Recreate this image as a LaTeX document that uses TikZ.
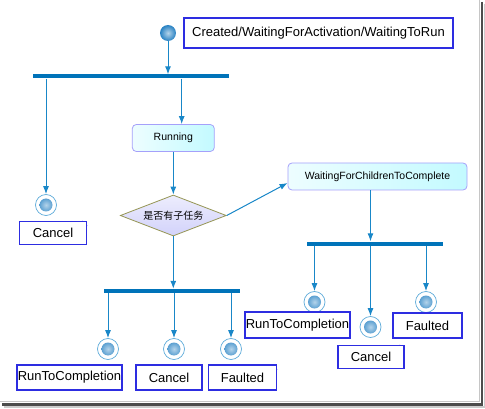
\documentclass[tikz,border=0pt]{standalone}
\usepackage{fontspec}
\setmainfont{Liberation Sans}
\newfontfamily\cjk{Noto Sans CJK SC}
\usepackage{xcolor}
\usepackage{tikz}
\usetikzlibrary{shapes.geometric, arrows.meta, positioning}
\definecolor{flowline}{RGB}{25,135,200}
\definecolor{barline}{RGB}{0,115,185}
\definecolor{noteline}{RGB}{45,45,225}
\definecolor{actline}{RGB}{165,160,250}
\definecolor{actfill}{RGB}{195,250,255}
\definecolor{decline}{RGB}{150,150,85}
\definecolor{decfill}{RGB}{210,210,250}
\definecolor{ballcol}{RGB}{40,130,195}

\begin{document}
\begin{tikzpicture}[x=1pt, y=-1pt,
    flow/.style={draw=flowline, line width=1pt, -{Latex[length=8pt,width=6pt]}},
    forkbar/.style={fill=barline, inner sep=0pt, minimum height=4pt},
    notebox/.style={draw=noteline, line width=1.2pt, fill=white, inner sep=0.5pt,
        font=\fontsize{13}{15}\selectfont,
        append after command={\pgfextra{
            \filldraw[white, line width=1.4pt] ([xshift=-5pt]\tikzlastnode.north east)
                -- (\tikzlastnode.north east) -- ([yshift=-5pt]\tikzlastnode.north east) -- cycle;
            \draw[noteline, line width=0.6pt] ([xshift=-5pt]\tikzlastnode.north east)
                -- ([yshift=-5pt]\tikzlastnode.north east);}}},
    activity/.style={rectangle, rounded corners=4pt, draw=actline, line width=0.8pt,
        left color=actfill!30!white, right color=actfill, minimum height=27pt,
        font=\fontsize{10.5}{12}\selectfont},
    decision/.style={diamond, aspect=2.5, draw=decline, line width=0.8pt, inner sep=0pt,
        top color=decfill!40!white, bottom color=decfill, minimum width=106pt, minimum height=41pt},
    start/.style={circle, inner sep=0pt, minimum size=16pt, inner color=ballcol!35!white, outer color=ballcol},
    final/.style={circle, draw=flowline!70, line width=0.7pt, inner sep=0pt, minimum size=21pt,
        path picture={\shade[inner color=ballcol!35!white, outer color=ballcol] (path picture bounding box.center) circle (6.5pt);}}]
    \useasboundingbox (0,0) rectangle (485,409);

    % frame shadow
    \draw[gray!45, line width=1pt] (479.5,0) -- (479.5,401.5) -- (0,401.5);
    \draw[black!70, line width=2.5pt] (482,2) -- (482,404.5) -- (2,404.5);
    \draw[gray!40, line width=1.5pt] (484.3,4) -- (484.3,407) -- (4,407);

    % start
    \node[start] (init) at (168,33) {};
    \node[notebox, minimum width=269pt, minimum height=30pt] (nInit) at (318.5,33) {Created/WaitingForActivation/WaitingToRun};
    \node[forkbar, minimum width=196pt] (fork1) at (130.5,76.5) {};

    % cancel before running
    \node[final] (end1) at (46,205) {};
    \node[notebox, minimum width=67pt, minimum height=23pt] (nEnd1) at (53,233) {Cancel};

    % running and decision
    \node[activity, minimum width=82pt] (run) at (173.3,138) {Running};
    \node[decision] (hasChild) at (173.3,215.5) {\cjk\fontsize{10}{12}\selectfont 是否有子任务};
    \node[activity, minimum width=179pt] (wait) at (377.5,176.5) {WaitingForChildrenToComplete};

    % children branch
    \node[forkbar, minimum width=136pt] (fork2) at (374.7,243.5) {};
    \node[final] (end2) at (314.5,302) {};
    \node[final] (end3) at (370.5,327) {};
    \node[final] (end4) at (426,302) {};
    \node[notebox, minimum width=105pt, minimum height=26pt] (nEnd2) at (297.5,325) {RunToCompletion};
    \node[notebox, minimum width=66pt, minimum height=23pt] (nEnd3) at (371,357) {Cancel};
    \node[notebox, minimum width=69pt, minimum height=25pt] (nEnd4) at (427.5,325.5) {Faulted};

    % no children branch
    \node[forkbar, minimum width=136pt] (fork3) at (172,291) {};
    \node[final] (end5) at (108,349) {};
    \node[final] (end6) at (174,349) {};
    \node[final] (end7) at (231,349) {};
    \node[notebox, minimum width=105pt, minimum height=25pt] (nEnd5) at (69.5,377.5) {RunToCompletion};
    \node[notebox, minimum width=66pt, minimum height=25pt] (nEnd6) at (169,377.5) {Cancel};
    \node[notebox, minimum width=68pt, minimum height=25pt] (nEnd7) at (242.5,377.5) {Faulted};

    % connectors
    \draw[flow] (init) -- (init |- fork1.north);
    \draw[flow] (fork1.south -| end1) -- (end1);
    \draw[flow] ([xshift=51.2pt]fork1.south) -- ([xshift=8.4pt]run.north);
    \draw[flow] (run) -- (hasChild);
    \draw[flow] (hasChild.east) -- ([yshift=-6.5pt]wait.west);
    \draw[flow] (wait.south -| end3) -- (fork2.north -| end3);
    \draw[flow] (fork2.south -| end2) -- (end2);
    \draw[flow] (fork2.south -| end3) -- (end3);
    \draw[flow] (fork2.south -| end4) -- (end4);
    \draw[flow] (hasChild.south) -- (hasChild.south |- fork3.north);
    \draw[flow] (fork3.south -| end5) -- (end5);
    \draw[flow] (fork3.south -| end6) -- (end6);
    \draw[flow] (fork3.south -| end7) -- (end7);
\end{tikzpicture}
\end{document}
